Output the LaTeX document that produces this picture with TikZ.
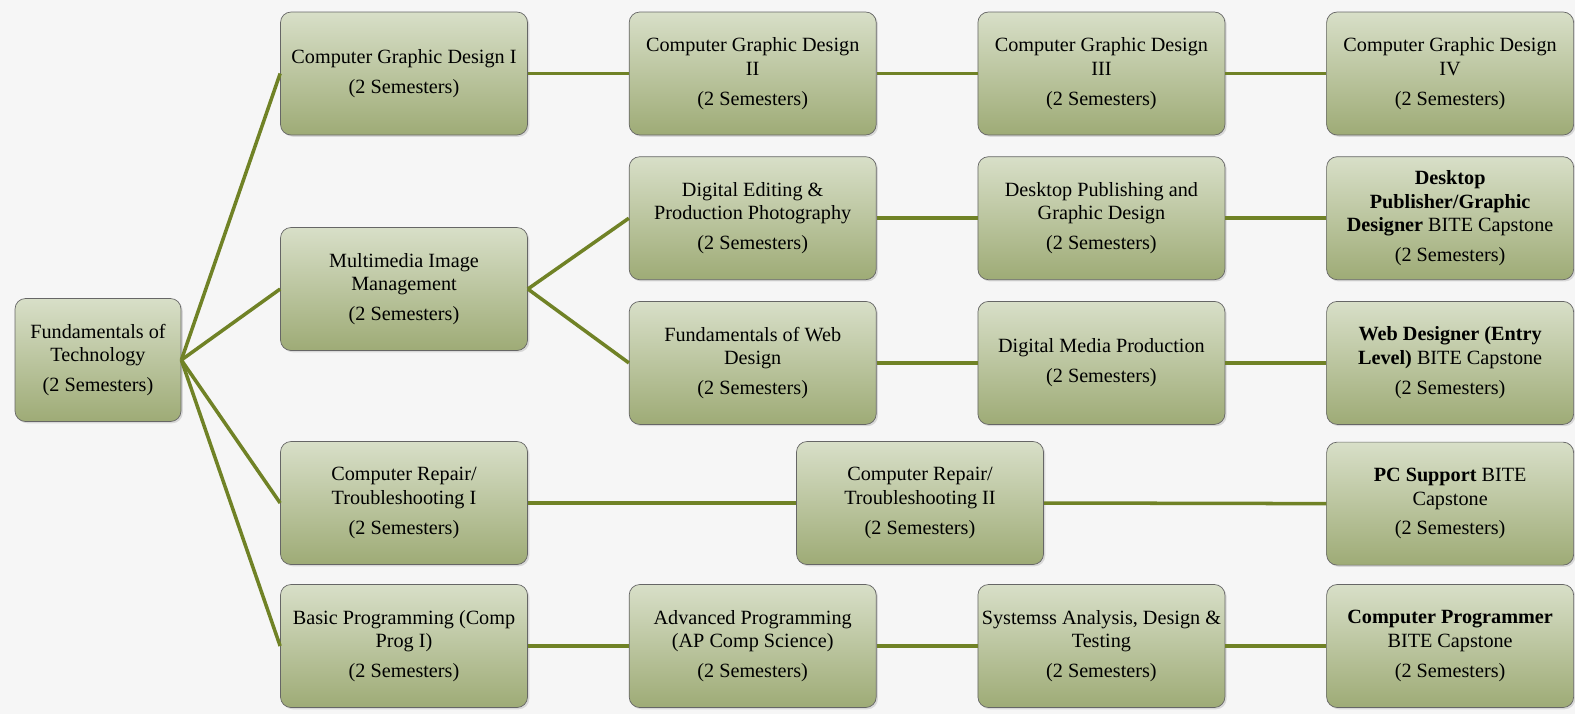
\documentclass[tikz,border=0pt]{standalone}
\usepackage{fontspec}
\setmainfont{Liberation Serif}
\usetikzlibrary{positioning,shadows}
\definecolor{linegreen}{RGB}{112,130,38}
\definecolor{boxtop}{RGB}{216,223,200}
\definecolor{boxbottom}{RGB}{158,171,118}
\definecolor{paper}{RGB}{246,246,246}
\newcommand{\sem}{\\[3.5pt](2 Semesters)}
\tikzset{
  course/.style={draw=black!60, rounded corners=6pt, top color=boxtop, bottom color=boxbottom,
    minimum width=4.94cm, minimum height=2.46cm, inner sep=1pt, align=center,
    font=\fontsize{11.5}{13.5}\selectfont,
    drop shadow={shadow xshift=1pt, shadow yshift=-1pt, opacity=0.25}},
  link/.style={draw=linegreen, line width=2pt}
}
\begin{document}
\begin{tikzpicture}[node distance=0.42cm and 2.02cm]
\fill[paper] (0,0) rectangle (31.5,-14.28);
\useasboundingbox (0,0) rectangle (31.5,-14.28);
% nodes
\node [course, minimum width=3.32cm] (fund) at (1.96,-7.20) {Fundamentals of\\Technology\sem};
\node [course] (cgd1) at (8.08,-1.47) {Computer Graphic Design I\sem};
\node [course, right=of cgd1] (cgd2) {Computer Graphic Design\\II\sem};
\node [course, right=of cgd2] (cgd3) {Computer Graphic Design\\III\sem};
\node [course, right=of cgd3] (cgd4) {Computer Graphic Design\\IV\sem};
\node [course] (multi) at (8.08,-5.78) {Multimedia Image\\Management\sem};
\node [course, below=of cgd2] (dig) {Digital Editing \&\\Production Photography\sem};
\node [course, right=of dig] (desk) {Desktop Publishing and\\Graphic Design\sem};
\node [course, right=of desk] (dpub) {\textbf{Desktop}\\\textbf{Publisher/Graphic}\\\textbf{Designer} BITE Capstone\sem};
\node [course, below=of dig] (web) {Fundamentals of Web\\Design\sem};
\node [course, right=of web] (dmp) {Digital Media Production\sem};
\node [course, right=of dmp] (webdes) {\textbf{Web Designer (Entry}\\\textbf{Level)} BITE Capstone\sem};
\node [course] (rep1) at (8.08,-10.06) {Computer Repair/\\Troubleshooting I\sem};
\node [course] (rep2) at (18.40,-10.06) {Computer Repair/\\Troubleshooting II\sem};
\node [course, below=0.34cm of webdes] (pcs) {\textbf{PC Support} BITE\\Capstone\sem};
\node [course] (basic) at (8.08,-12.92) {Basic Programming (Comp\\Prog I)\sem};
\node [course, right=of basic] (adv) {Advanced Programming\\(AP Comp Science)\sem};
\node [course, right=of adv] (sys) {Systemss Analysis, Design \&\\Testing\sem};
\node [course, right=of sys] (prog) {\textbf{Computer Programmer}\\BITE Capstone\sem};
% lines
\draw [link] (fund.east) -- (cgd1.west);
\draw [link] (fund.east) -- (multi.west);
\draw [link] (fund.east) -- (rep1.west);
\draw [link] (fund.east) -- (basic.west);
\draw [link] (multi.east) -- (dig.west);
\draw [link] (multi.east) -- (web.west);
\draw [link] (cgd1) -- (cgd2);
\draw [link] (cgd2) -- (cgd3);
\draw [link] (cgd3) -- (cgd4);
\draw [link] (dig) -- (desk);
\draw [link] (desk.east) -- (dpub.west);
\draw [link] (web) -- (dmp);
\draw [link] (dmp) -- (webdes);
\draw [link] (rep1) -- (rep2);
\draw [link] (rep2.east) -- (pcs.west);
\draw [link] (basic) -- (adv);
\draw [link] (adv) -- (sys);
\draw [link] (sys) -- (prog);
\end{tikzpicture}
\end{document}
